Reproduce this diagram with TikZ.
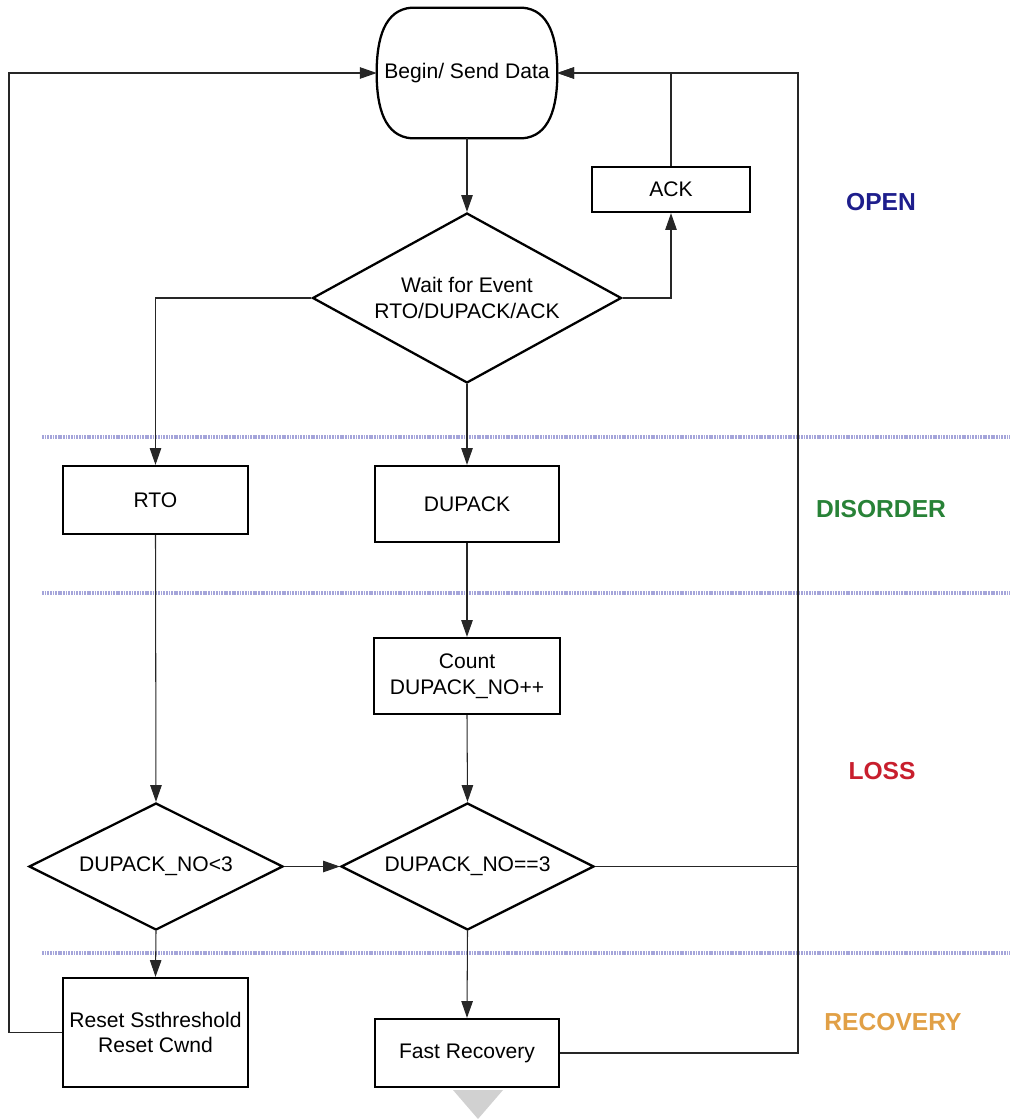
\documentclass[tikz,border=0pt]{standalone}
\usepackage{fontspec}
\setmainfont{Liberation Sans}
\usepackage{xcolor}
\usetikzlibrary{calc,arrows.meta,shapes.geometric}

\definecolor{openblue}{RGB}{30,30,140}
\definecolor{disgreen}{RGB}{40,130,55}
\definecolor{lossred}{RGB}{200,30,45}
\definecolor{recorange}{RGB}{225,160,70}
\definecolor{bandline}{RGB}{165,165,218}

\tikzset{
	stepbox/.style={rectangle,draw,line width=1.3pt,align=center,inner sep=2pt},
	decide/.style={diamond,draw,line width=1.3pt,align=center,inner sep=0pt},
	flow/.style={line width=0.6pt,color=black!85,-{Triangle[length=9.5pt,width=6.5pt]}},
	link/.style={line width=0.6pt,color=black!85},
	band/.style={line width=2.2pt,color=bandline,dash pattern=on 1pt off 0.5pt},
	state/.style={font=\fontsize{14}{16}\selectfont\bfseries}
}

\begin{document}
\begin{tikzpicture}[x=0.02cm,y=-0.02cm,font=\fontsize{12}{14.5}\selectfont]
	
	\useasboundingbox (0,0) rectangle (1010,1119);
	
	% state bands

	\draw[band] (42,437) -- (1010,437);
	\draw[band] (42,593) -- (1010,593);
	\draw[band] (42,953) -- (1010,953);

	% blocks

	\node[rectangle,minimum width=3.6cm,minimum height=2.6cm] (begin) at (467,73) {Begin/ Send Data};
	\draw[line width=1.3pt] ($(begin.north west)+(35,0)$) -- ($(begin.north east)+(-35,0)$)
		.. controls ($(begin.north east)+(-8,2)$) and ($(begin.east)+(0,-35)$) .. (begin.east)
		.. controls ($(begin.east)+(0,35)$) and ($(begin.south east)+(-8,-2)$) .. ($(begin.south east)+(-35,0)$)
		-- ($(begin.south west)+(35,0)$)
		.. controls ($(begin.south west)+(8,-2)$) and ($(begin.west)+(0,35)$) .. (begin.west)
		.. controls ($(begin.west)+(0,-35)$) and ($(begin.north west)+(8,2)$) .. cycle;
	\node[decide,aspect=1.82,minimum width=6.18cm,minimum height=3.4cm] (wait) at (467,298) {Wait for Event\\RTO/DUPACK/ACK};
	\node[stepbox,minimum width=3.16cm,minimum height=0.9cm] (ack) at (671,189.5) {ACK};
	\node[stepbox,minimum width=3.7cm,minimum height=1.36cm] (rto) at (155.5,500) {RTO};
	\node[stepbox,minimum width=3.68cm,minimum height=1.52cm] (dupack) at (467,504) {DUPACK};
	\node[stepbox,minimum width=3.72cm,minimum height=1.52cm] (count) at (467,676) {Count\\DUPACK\_NO++};
	\node[decide,aspect=2,minimum width=5.08cm,minimum height=2.54cm] (lt3) at (156,866.5) {DUPACK\_NO<3};
	\node[decide,aspect=2,minimum width=5.06cm,minimum height=2.54cm] (eq3) at (467.5,866.5) {DUPACK\_NO==3};
	\node[stepbox,minimum width=3.7cm,minimum height=2.18cm] (reset) at (155.5,1032.5) {Reset Ssthreshold\\Reset Cwnd};
	\node[stepbox,minimum width=3.68cm,minimum height=1.36cm] (fast) at (467,1053) {Fast Recovery};

	\coordinate (lfttrail) at (9,73);
	\coordinate (rgttrail) at (798,73);

	% connectors

	\draw[flow] (begin) -- (wait);
	\draw[flow] (wait.east) -| (ack.south);
	\draw[flow] (ack.north) |- (begin.east);
	\draw[flow] (wait.west) -| (rto.north);
	\draw[flow] (wait.south) -- (dupack.north);
	\draw[flow] (dupack) -- (count);
	\draw[flow] (count.south) -- (eq3.north);
	\draw[flow] (rto.south) -- (lt3.north);
	\draw[flow] (lt3.east) -- (eq3.west);
	\draw[flow] (lt3.south) -- (reset.north);
	\draw[flow] (eq3.south) -- (fast.north);
	\draw[flow] (reset.west) -| (lfttrail) -- (begin.west);
	\draw[flow] (fast.east) -| (rgttrail) -- (begin.east);
	\draw[link] (eq3.east) -- (eq3.east -| rgttrail);

	\fill[black!18] (453,1090) -- (503,1090) -- (478,1119) -- cycle;

	% state names

	\node[state,color=openblue] (open) at (881,202) {OPEN};
	\node[state,color=disgreen] (disorder) at (881,509) {DISORDER};
	\node[state,color=lossred] (loss) at (882,771) {LOSS};
	\node[state,color=recorange] (recovery) at (893,1022) {RECOVERY};
	
\end{tikzpicture}
\end{document}
